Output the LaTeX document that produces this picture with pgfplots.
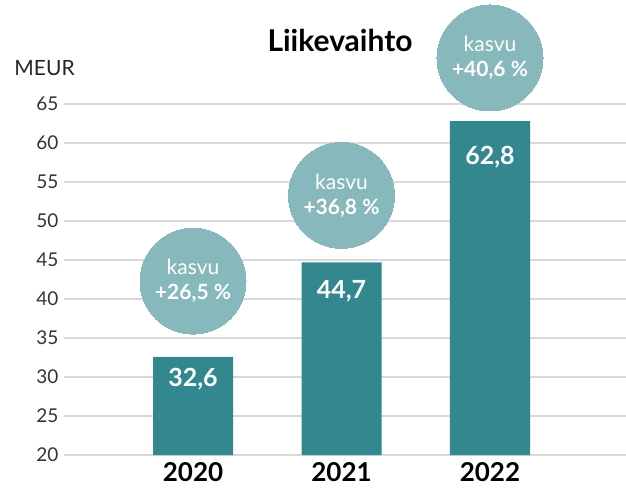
\documentclass[border=0pt]{standalone}
\usepackage{fontspec}
\setmainfont{Lato}
\usepackage{pgfplots}
\pgfplotsset{compat=1.18}
\definecolor{barc}{RGB}{51,135,142}
\definecolor{circc}{RGB}{135,184,188}
\definecolor{gridc}{RGB}{217,217,217}
\pgfplotsset{common/.style={
  scale only axis, width=562pt, height=351pt,
  xmin=-0.87, xmax=2.916, ymin=20, ymax=65,
  axis line style={draw=none}, major tick length=0pt,
}}
\begin{document}
\begin{tikzpicture}
\begin{axis}[common,
  ytick={20,25,...,65},
  xtick={0,1,2}, xticklabels={2020,2021,2022},
  ymajorgrids, grid style={gridc, line width=1.6pt},
  /pgf/number format/assume math mode=true,
  yticklabel style={font=\fontsize{19}{19}\selectfont, text=black!80, xshift=-2pt},
  xticklabel style={font=\fontsize{26}{26}\selectfont\bfseries, text=black, yshift=-4pt},
]
\addplot[ybar, bar width=80pt, bar shift=0pt, fill=barc, draw=none]
  coordinates {(0,32.6) (1,44.7) (2,62.8)};
\end{axis}
\begin{axis}[common, clip=false, xtick=\empty, ytick=\empty]
\addplot[only marks, color=circc, mark=*, mark size=53pt, mark options={fill=circc, draw=circc, line width=0pt}]
  coordinates {(0,42.3) (1,53.3) (2,70.9)};
\coordinate (bl) at (axis cs:-1.30,15.51);
\coordinate (tr) at (axis cs:2.916,78.33);
\end{axis}
\begin{axis}[common, clip=false, xtick=\empty, ytick=\empty]
\begin{scope}[every node/.style={align=center, text=white, font=\fontsize{21}{25}\selectfont}]
\node at (axis cs:0,42.3) {kasvu\\\textbf{+26,5 \%}};
\node at (axis cs:1,53.3) {kasvu\\\textbf{+36,8 \%}};
\node at (axis cs:2,70.9) {kasvu\\\textbf{+40,6 \%}};
\end{scope}
\begin{scope}[every node/.style={text=white, font=\fontsize{25}{25}\selectfont\bfseries}]
\node at (axis cs:0,29.7) {32,6};
\node at (axis cs:1,41.0) {44,7};
\node at (axis cs:2,58.2) {62,8};
\end{scope}
\node[font=\fontsize{30}{30}\selectfont\bfseries] at (axis cs:0.99,73.2) {Liikevaihto};
\node[font=\fontsize{21}{21}\selectfont, text=black!85] at (axis cs:-1.0,69.6) {MEUR};
\end{axis}
\pgfresetboundingbox
\path[use as bounding box] (bl) rectangle (tr);
\end{tikzpicture}
\end{document}
